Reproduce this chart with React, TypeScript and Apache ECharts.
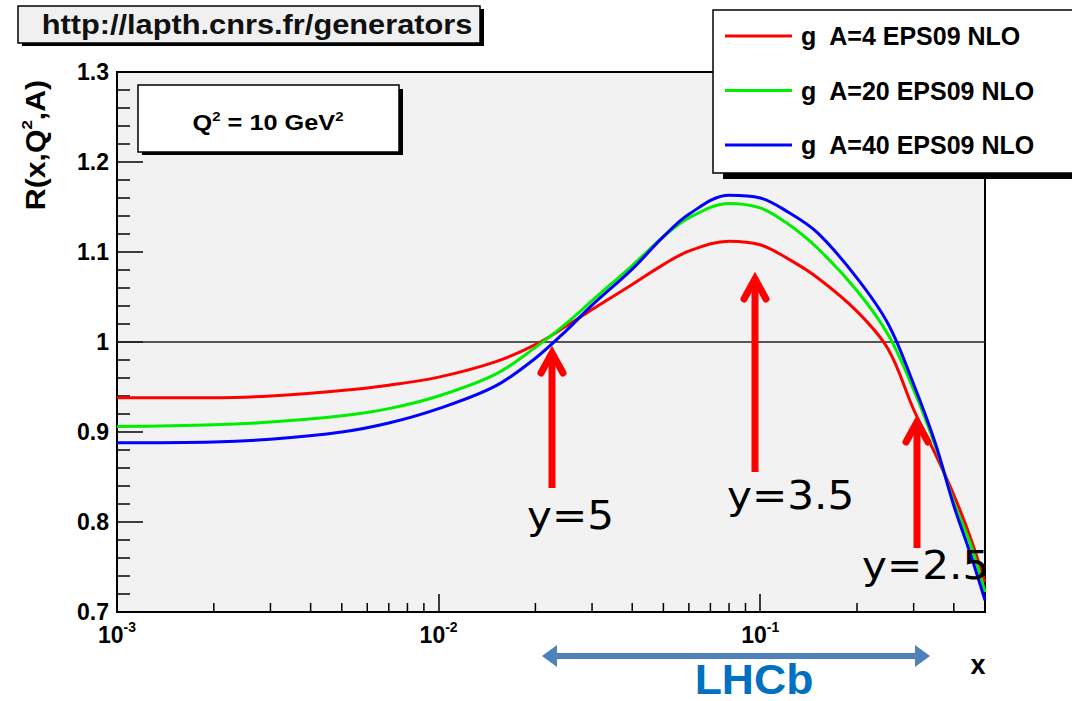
import React, { useEffect, useRef } from "react";
import * as echarts from "echarts";

const xValues = [0.001, 0.002, 0.003, 0.005, 0.007, 0.01, 0.015, 0.02, 0.025, 0.03, 0.04, 0.05, 0.06, 0.08, 0.1, 0.12, 0.15, 0.2, 0.25, 0.3, 0.35, 0.4, 0.45, 0.5];
const redA4 = [0.938, 0.938, 0.940, 0.946, 0.952, 0.961, 0.978, 0.997, 1.018, 1.036, 1.064, 1.086, 1.101, 1.112, 1.108, 1.094, 1.072, 1.034, 0.992, 0.925, 0.876, 0.830, 0.783, 0.733];
const greenA20 = [0.906, 0.908, 0.911, 0.918, 0.926, 0.940, 0.964, 0.994, 1.021, 1.046, 1.085, 1.117, 1.138, 1.154, 1.149, 1.133, 1.105, 1.057, 1.008, 0.947, 0.885, 0.822, 0.776, 0.722];
const blueA40 = [0.888, 0.889, 0.892, 0.900, 0.910, 0.926, 0.951, 0.982, 1.013, 1.041, 1.081, 1.117, 1.142, 1.163, 1.160, 1.146, 1.122, 1.071, 1.020, 0.953, 0.888, 0.818, 0.765, 0.713];

const seriesNames = ["g  A=4 EPS09 NLO", "g  A=20 EPS09 NLO", "g  A=40 EPS09 NLO"];
const seriesColors = ["#ff0000", "#00ee00", "#0000ff"];
const xMin = 0.001;
const xMax = 0.5;
const yMin = 0.7;
const yMax = 1.3;
const yInterval = 0.1;
const xMinorTicks = [0.002, 0.003, 0.004, 0.005, 0.006, 0.007, 0.008, 0.009, 0.02, 0.03, 0.04, 0.05, 0.06, 0.07, 0.08, 0.09, 0.2, 0.3, 0.4];

const SANS = "'Liberation Sans', Arial, sans-serif";
const DEJAVU = "'DejaVu Sans', Verdana, sans-serif";

export default function App() {
  const ref = useRef<HTMLDivElement>(null);
  useEffect(() => {
    document.body.style.margin = "0";
    const chart = echarts.init(ref.current!, null, { renderer: "svg" });
    const mk = (ys: number[]) => xValues.map((x, i) => [x, ys[i]]);
    const allY = [redA4, greenA20, blueA40];
    const series: any[] = allY.map((ys, i) => ({
      type: "line",
      name: seriesNames[i],
      data: mk(ys),
      showSymbol: false,
      smooth: 0.35,
      color: seriesColors[i],
      lineStyle: { color: seriesColors[i], width: 3 },
      z: 3,
      ...(i === 0
        ? {
            markLine: {
              silent: true,
              symbol: ["none", "none"],
              label: { show: false },
              lineStyle: { color: "#222", width: 1.5, type: "solid" },
              data: [{ yAxis: 1 }],
              z: 2,
            },
          }
        : {}),
    }));
    series.push({
      type: "custom",
      name: "minorTicks",
      silent: true,
      clip: false,
      z: 4,
      data: xMinorTicks.map((v) => [v, yMin]),
      renderItem: (_p: any, api: any) => {
        const p = api.coord([api.value(0), api.value(1)]);
        return {
          type: "line",
          shape: { x1: p[0], y1: p[1], x2: p[0], y2: p[1] - 9 },
          style: { stroke: "#000", lineWidth: 1.5 },
        };
      },
    });

    const red = "#ff0000";
    const arrow = (x: number, tip: number, bottom: number, z = 8) => [
      { type: "line", z, shape: { x1: x, y1: tip + 4, x2: x, y2: bottom }, style: { stroke: red, lineWidth: 7 } },
      {
        type: "polyline",
        z,
        shape: { points: [[x - 11, tip + 22], [x, tip + 2], [x + 11, tip + 22]] },
        style: { stroke: red, lineWidth: 7, fill: null, lineJoin: "miter", lineCap: "round" },
      },
    ];
    const yText = (t: string, x: number, y: number) => ({
      type: "text",
      z: 9,
      x,
      y,
      scaleX: 1.08,
      style: { text: t, fontFamily: DEJAVU, fontSize: 39, fill: "#000", align: "left", verticalAlign: "middle" },
    });
    const lhcb = "#4f81bd";

    chart.setOption({
      animation: false,
      backgroundColor: "#ffffff",
      grid: {
        left: 117,
        right: 87,
        top: 72,
        bottom: 89,
        show: true,
        backgroundColor: "#f2f2f2",
        borderColor: "#000",
        borderWidth: 2,
      },
      legend: {
        data: seriesNames,
        orient: "vertical",
        left: 725,
        top: 21,
        padding: 0,
        icon: "rect",
        itemWidth: 67,
        itemHeight: 3,
        itemGap: 24.5,
        z: 10,
        textStyle: {
          fontFamily: SANS,
          fontWeight: "bold",
          fontSize: 25,
          color: "#000",
          lineHeight: 30,
          padding: [0, 0, 0, 4],
        },
      },
      xAxis: {
        type: "log",
        logBase: 10,
        min: xMin,
        max: xMax,
        axisLine: { show: true, lineStyle: { color: "#000", width: 2 } },
        axisTick: { show: true, inside: true, length: 18, lineStyle: { color: "#000", width: 1.5 } },
        splitLine: { show: false },
        minorTick: { show: false },
        axisLabel: {
          margin: 8,
          showMaxLabel: false,
          formatter: (v: number) => {
            const l = Math.log10(v);
            const e = Math.round(l);
            if (Math.abs(l - e) > 1e-6) return "";
            return `{b|10}{s|${e}}`;
          },
          rich: {
            b: { fontFamily: SANS, fontWeight: "bold", fontSize: 23, color: "#000", verticalAlign: "bottom", lineHeight: 26 },
            s: { fontFamily: SANS, fontWeight: "bold", fontSize: 14, color: "#000", verticalAlign: "top", lineHeight: 26 },
          },
        },
      },
      yAxis: {
        type: "value",
        min: yMin,
        max: yMax,
        interval: yInterval,
        axisLine: { show: true, lineStyle: { color: "#000", width: 2 } },
        axisTick: { show: true, inside: true, length: 26, lineStyle: { color: "#000", width: 1.5 } },
        minorTick: { show: true, splitNumber: 5, length: 13, lineStyle: { color: "#000", width: 1.5 } },
        splitLine: { show: false },
        axisLabel: {
          margin: 8,
          fontFamily: SANS,
          fontWeight: "bold",
          fontSize: 23,
          color: "#000",
          formatter: (v: number) => (Math.abs(v - 1) < 1e-9 ? "1" : v.toFixed(1)),
        },
      },
      series,
      graphic: [
        // title box
        { type: "rect", z: 5, shape: { x: 22, y: 9, width: 462, height: 37 }, style: { fill: "#000" } },
        { type: "rect", z: 6, shape: { x: 18, y: 6, width: 462, height: 37 }, style: { fill: "#f0f0f0", stroke: "#000", lineWidth: 1.5 } },
        {
          type: "text",
          z: 7,
          x: 257,
          y: 25,
          scaleX: 1.14,
          style: { text: "http://lapth.cnrs.fr/generators", fontFamily: SANS, fontWeight: "bold", fontSize: 27, fill: "#111", align: "center", verticalAlign: "middle" },
        },
        // Q2 box
        { type: "rect", z: 5, shape: { x: 142, y: 89, width: 261, height: 66 }, style: { fill: "#000" } },
        { type: "rect", z: 6, shape: { x: 138, y: 85, width: 261, height: 67 }, style: { fill: "#fff", stroke: "#000", lineWidth: 1.5 } },
        {
          type: "text",
          z: 7,
          x: 268,
          y: 122,
          scaleX: 1.15,
          style: {
            text: "{a|Q}{s|2}{a| = 10 GeV}{s|2}",
            align: "center",
            verticalAlign: "middle",
            rich: {
              a: { fontFamily: SANS, fontWeight: "bold", fontSize: 22, fill: "#000", verticalAlign: "bottom", lineHeight: 24 },
              s: { fontFamily: SANS, fontWeight: "bold", fontSize: 13, fill: "#000", verticalAlign: "top", lineHeight: 24 },
            },
          },
        },
        // legend box
        { type: "rect", z: 5, shape: { x: 723, y: 16, width: 400, height: 163 }, style: { fill: "#000" } },
        { type: "rect", z: 6, shape: { x: 713, y: 10, width: 400, height: 163 }, style: { fill: "#fff", stroke: "#000", lineWidth: 1.5 } },
        // y axis title
        {
          type: "text",
          z: 7,
          x: 34,
          y: 145,
          rotation: Math.PI / 2,
          scaleX: 1.12,
          style: {
            text: "{a|R(x,Q}{s|2}{a|,A)}",
            align: "center",
            verticalAlign: "middle",
            rich: {
              a: { fontFamily: SANS, fontWeight: "bold", fontSize: 27, fill: "#000", verticalAlign: "bottom", lineHeight: 30 },
              s: { fontFamily: SANS, fontWeight: "bold", fontSize: 15, fill: "#000", verticalAlign: "top", lineHeight: 30 },
            },
          },
        },
        // x axis title
        {
          type: "text",
          z: 7,
          x: 978,
          y: 665,
          style: { text: "x", fontFamily: SANS, fontWeight: "bold", fontSize: 27, fill: "#000", align: "center", verticalAlign: "middle" },
        },
        // red arrows
        ...arrow(552, 351, 488),
        ...arrow(755, 277, 472),
        ...arrow(917, 420, 548),
        yText("y=5", 527, 516),
        yText("y=3.5", 727, 496),
        yText("y=2.5", 862, 566),
        // LHCb arrow
        { type: "line", z: 8, shape: { x1: 552, y1: 656, x2: 920, y2: 656 }, style: { stroke: lhcb, lineWidth: 6 } },
        { type: "polygon", z: 8, shape: { points: [[542, 656], [557, 645], [557, 667]] }, style: { fill: lhcb } },
        { type: "polygon", z: 8, shape: { points: [[930, 656], [915, 645], [915, 667]] }, style: { fill: lhcb } },
        {
          type: "text",
          z: 8,
          x: 754,
          y: 679,
          scaleX: 1.06,
          style: { text: "LHCb", fontFamily: SANS, fontWeight: "bold", fontSize: 42, lineHeight: 40, fill: "#0070c0", align: "center", verticalAlign: "middle" },
        },
      ],
    });
    return () => chart.dispose();
  }, []);
  return <div ref={ref} style={{ width: 1072, height: 701 }} />;
}
